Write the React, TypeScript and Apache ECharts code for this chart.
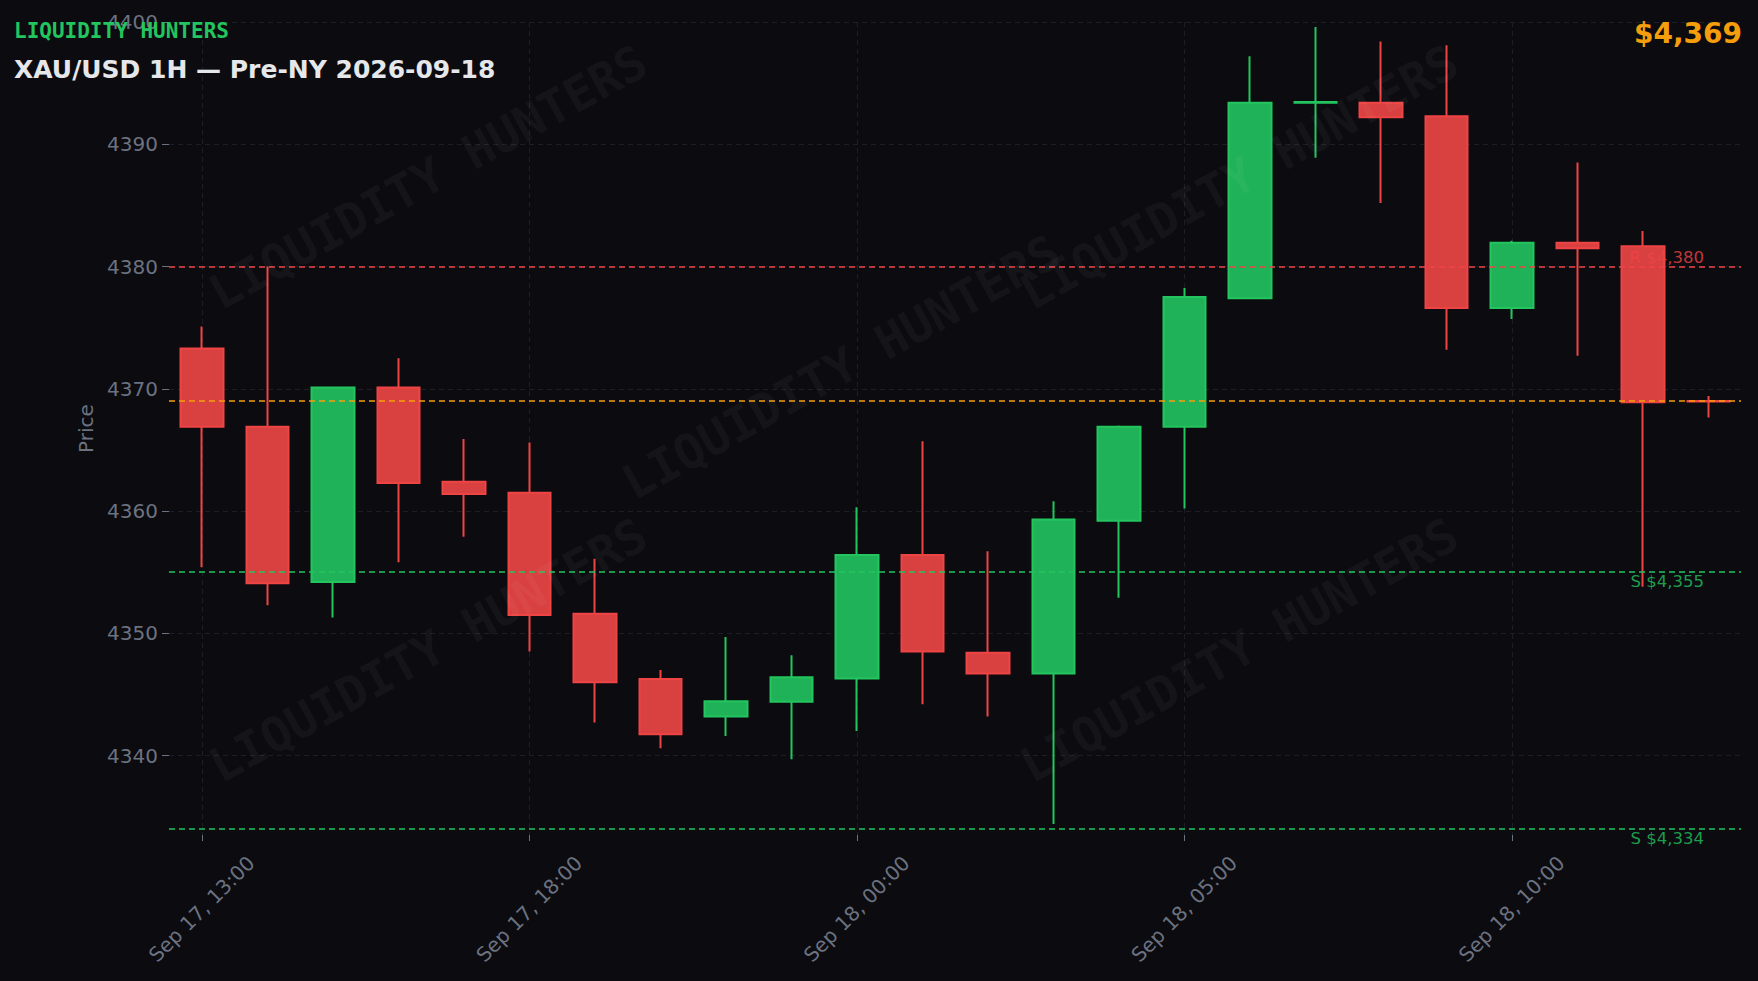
import React, { useEffect, useRef } from "react";
import * as echarts from "echarts";

// ---- data ----
const categories = [
  "Sep 17, 13:00", "Sep 17, 14:00", "Sep 17, 15:00", "Sep 17, 16:00", "Sep 17, 17:00",
  "Sep 17, 18:00", "Sep 17, 19:00", "Sep 17, 20:00", "Sep 17, 22:00", "Sep 17, 23:00",
  "Sep 18, 00:00", "Sep 18, 01:00", "Sep 18, 02:00", "Sep 18, 03:00", "Sep 18, 04:00",
  "Sep 18, 05:00", "Sep 18, 06:00", "Sep 18, 07:00", "Sep 18, 08:00", "Sep 18, 09:00",
  "Sep 18, 10:00", "Sep 18, 11:00", "Sep 18, 12:00", "Sep 18, 13:00",
];
const opens = [
  4373.3, 4366.9, 4354.2, 4370.1, 4362.4, 4361.5, 4351.6, 4346.25, 4343.2, 4344.4,
  4346.3, 4356.4, 4348.4, 4346.7, 4359.2, 4366.9, 4377.4, 4393.4, 4393.4, 4392.3,
  4376.6, 4381.95, 4381.65, 4369.0,
];
const closes = [
  4366.9, 4354.1, 4370.1, 4362.3, 4361.4, 4351.5, 4346.0, 4341.75, 4344.45, 4346.4,
  4356.4, 4348.5, 4346.7, 4359.3, 4366.9, 4377.5, 4393.4, 4393.45, 4392.2, 4376.6,
  4381.95, 4381.5, 4368.9, 4368.95,
];
const lows = [
  4355.4, 4352.3, 4351.3, 4355.8, 4357.9, 4348.5, 4342.7, 4340.6, 4341.6, 4339.7,
  4342.0, 4344.2, 4343.2, 4334.4, 4352.9, 4360.2, 4377.4, 4388.9, 4385.2, 4373.2,
  4375.7, 4372.7, 4353.8, 4367.65,
];
const highs = [
  4375.1, 4380.0, 4370.1, 4372.5, 4365.9, 4365.6, 4356.1, 4347.0, 4349.7, 4348.2,
  4360.3, 4365.7, 4356.7, 4360.8, 4367.0, 4378.25, 4397.2, 4399.6, 4398.4, 4398.1,
  4382.1, 4388.5, 4382.9, 4369.4,
];
const yTickValues = [4340, 4350, 4360, 4370, 4380, 4390, 4400];
const resistanceLevels = [4380];
const supportLevels = [4355, 4334];
const currentPrice = 4369;
const yMin = 4333.5;
const yMax = 4400;

const brandText = "LIQUIDITY HUNTERS";
const titleText = "XAU/USD 1H — Pre-NY 2026-09-18";
const yAxisName = "Price";

const fmtPrice = (v: number) => "$" + v.toLocaleString("en-US");

export default function App() {
  const ref = useRef<HTMLDivElement>(null);

  useEffect(() => {
    if (!ref.current) return;
    const chart = echarts.init(ref.current, undefined, { renderer: "svg" });

    const candleData = categories.map((_, i) => [opens[i], closes[i], lows[i], highs[i]]);

    const gray = "#6b7280";
    const gridColor = "#1e1e27";

    const markData: any[] = [
      ...resistanceLevels.map((v) => ({
        yAxis: v,
        lineStyle: { color: "#ef4444", type: [6, 4], width: 1.5 },
        label: {
          show: true,
          position: "insideEndTop",
          formatter: "R " + fmtPrice(v),
          color: "rgba(239,68,68,0.8)",
          fontSize: 16.5,
          fontFamily: "DejaVu Sans",
          distance: [37, 1],
        },
      })),
      {
        yAxis: currentPrice,
        lineStyle: { color: "#f59e0b", type: [6, 4], width: 1.5 },
        label: { show: false },
      },
      ...supportLevels.map((v) => ({
        yAxis: v,
        lineStyle: { color: "#22c55e", type: [6, 4], width: 1.5 },
        label: {
          show: true,
          position: "insideEndBottom",
          formatter: "S " + fmtPrice(v),
          color: "rgba(34,197,94,0.8)",
          fontSize: 16.5,
          fontFamily: "DejaVu Sans",
          distance: [37, 1],
        },
      })),
    ];

    const watermarkCenters = [
      [428, 177],
      [841, 367],
      [1239, 177],
      [428, 650],
      [1239, 650],
    ];

    chart.setOption({
      animation: false,
      backgroundColor: "#0b0b10",
      textStyle: { fontFamily: "DejaVu Sans" },
      grid: { left: 169, right: 17, top: 22, bottom: 146, containLabel: false },
      xAxis: {
        type: "category",
        data: categories,
        boundaryGap: true,
        axisLine: { show: false },
        axisTick: {
          show: true,
          alignWithLabel: true,
          interval: 4,
          length: 6,
          lineStyle: { color: gray },
        },
        axisLabel: {
          interval: 4,
          rotate: 45,
          align: "center",
          verticalAlign: "middle",
          margin: 74,
          color: gray,
          fontSize: 20,
          fontFamily: "DejaVu Sans",
        },
        splitLine: {
          show: true,
          interval: 4,
          alignWithLabel: true,
          lineStyle: { color: gridColor, type: [5, 4], width: 1 },
        },
      },
      yAxis: {
        type: "value",
        min: yMin,
        max: yMax,
        splitNumber: 6,
        name: yAxisName,
        nameLocation: "middle",
        nameGap: 73,
        nameTextStyle: { color: gray, fontSize: 20, fontFamily: "DejaVu Sans" },
        axisLine: { show: false },
        axisTick: { show: true, length: 7, lineStyle: { color: gray }, customValues: yTickValues },
        axisLabel: {
          margin: 11,
          color: gray,
          fontSize: 20,
          fontFamily: "DejaVu Sans",
          customValues: yTickValues,
          formatter: (v: number) => (Math.abs(v % 10) < 1e-6 ? String(v) : ""),
        },
        splitLine: { show: true, lineStyle: { color: gridColor, type: [5, 4], width: 1 } },
      },
      series: [
        {
          type: "candlestick",
          data: candleData,
          barWidth: 43,
          itemStyle: {
            color: "#20b258",
            color0: "#d94040",
            borderColor: "#22c55e",
            borderColor0: "#ef4444",
            borderWidth: 2,
          },
          markLine: {
            silent: true,
            symbol: ["none", "none"],
            animation: false,
            data: markData,
          },
        },
      ],
      graphic: [
        ...watermarkCenters.map(([x, y]) => ({
          type: "text",
          x,
          y,
          rotation: 0.506,
          z: 100,
          silent: true,
          style: {
            text: brandText,
            fill: "rgba(255,255,255,0.04)",
            fontSize: 48,
            fontWeight: "bold",
            fontFamily: "DejaVu Sans Mono",
            align: "center",
            verticalAlign: "middle",
            textAlign: "center",
            textVerticalAlign: "middle",
          },
        })),
        {
          type: "text",
          x: 14,
          y: 31,
          z: 110,
          style: {
            text: brandText,
            fill: "#22c55e",
            fontSize: 21,
            fontWeight: "bold",
            fontFamily: "DejaVu Sans Mono",
            verticalAlign: "middle",
            textVerticalAlign: "middle",
          },
        },
        {
          type: "text",
          x: 14,
          y: 69,
          z: 110,
          style: {
            text: titleText,
            fill: "#e5e7eb",
            fontSize: 25,
            fontWeight: "bold",
            fontFamily: "DejaVu Sans",
            verticalAlign: "middle",
            textVerticalAlign: "middle",
          },
        },
        {
          type: "text",
          x: 1742,
          y: 33,
          z: 110,
          style: {
            text: fmtPrice(currentPrice),
            fill: "#f59e0b",
            fontSize: 28,
            fontWeight: "bold",
            fontFamily: "DejaVu Sans",
            align: "right",
            textAlign: "right",
            verticalAlign: "middle",
            textVerticalAlign: "middle",
          },
        },
      ],
    });

    return () => chart.dispose();
  }, []);

  return (
    <div
      ref={ref}
      style={{ position: "fixed", left: 0, top: 0, width: 1758, height: 981 }}
    />
  );
}
